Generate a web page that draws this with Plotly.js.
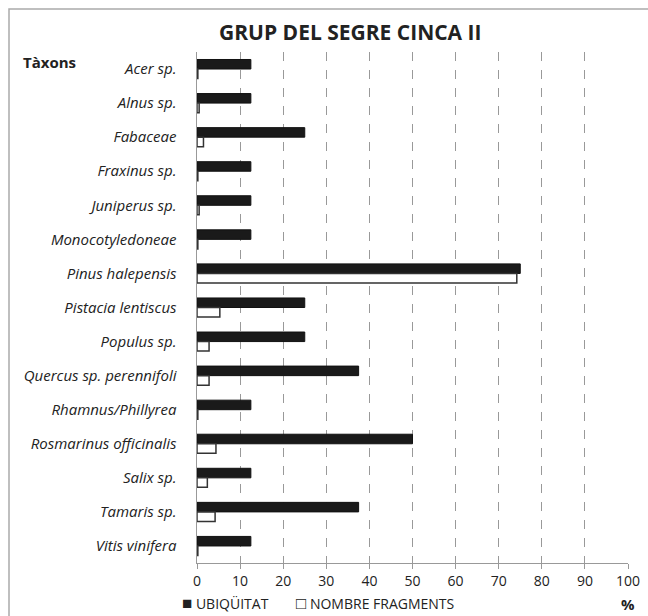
<!DOCTYPE html>
<html>
<head>
<meta charset="utf-8">
<script src="https://cdn.plot.ly/plotly-3.0.1.min.js"></script>
<style>
html,body{margin:0;padding:0;background:#fff;}
#chart{width:648px;height:616px;}
</style>
</head>
<body>
<div id="chart"></div>
<script>
const taxa = ["Acer sp.","Alnus sp.","Fabaceae","Fraxinus sp.","Juniperus sp.","Monocotyledoneae","Pinus halepensis","Pistacia lentiscus","Populus sp.","Quercus sp. perennifoli","Rhamnus/Phillyrea","Rosmarinus officinalis","Salix sp.","Tamaris sp.","Vitis vinifera"];
const ubiquitat = [12.5,12.5,25,12.5,12.5,12.5,75,25,25,37.5,12.5,50,12.5,37.5,12.5];
const fragments = [0.2,0.5,1.5,0.2,0.5,0.2,74.2,5.3,2.8,2.8,0.2,4.4,2.4,4.2,0.2];
const xTicks = [0,10,20,30,40,50,60,70,80,90,100];
const seriesNames = ['UBIQÜITAT','NOMBRE FRAGMENTS'];

const font = "Open Sans, Noto Sans, sans-serif";

const traces = [
  {type:'bar', orientation:'h', name:seriesNames[0], y:taxa, x:ubiquitat,
   marker:{color:'#1a1a1a', line:{color:'#111', width:1}}},
  {type:'bar', orientation:'h', name:seriesNames[1], y:taxa, x:fragments,
   marker:{color:'#ffffff', line:{color:'#333', width:1.5}}}
];

const L = 197, T = 52, W = 431, H = 511;
const px = x => (x - L) / W;
const py = y => (T + H - y) / H;

const layout = {
  width:648, height:616,
  margin:{l:L, r:648-L-W, t:T, b:616-T-H},
  paper_bgcolor:'#fff', plot_bgcolor:'#fff',
  barmode:'group', bargap:0.44, bargroupgap:0,
  font:{family:font, color:'#222'},
  showlegend:false,
  xaxis:{range:[0,100], tickvals:xTicks, ticktext:xTicks.map(String),
         showgrid:true, gridcolor:'#999', griddash:'dash', gridwidth:1,
         zeroline:false, showline:true, linecolor:'#999', linewidth:1,
         ticks:'outside', ticklen:5, tickcolor:'#999', automargin:false,
         tickfont:{size:14, color:'#222', family:font}, fixedrange:true},
  yaxis:{autorange:'reversed', showline:true, linecolor:'#999', linewidth:1.5,
         showgrid:false, ticks:'', ticklabelstandoff:16, automargin:false,
         tickfont:{size:15, color:'#222', family:font, style:'italic'}, fixedrange:true},
  annotations:[
    {text:'<b>GRUP DEL SEGRE CINCA II</b>', xref:'paper', yref:'paper',
     x:px(350), y:py(32), xanchor:'center', yanchor:'middle', showarrow:false,
     font:{size:21, color:'#222', family:font}},
    {text:'<b>Tàxons</b>', xref:'paper', yref:'paper',
     x:px(21), y:py(62), xanchor:'left', yanchor:'middle', showarrow:false,
     font:{size:15, color:'#222', family:font}},
    {text:'<b>%</b>', xref:'paper', yref:'paper',
     x:px(628), y:py(604), xanchor:'center', yanchor:'middle', showarrow:false,
     font:{size:15, color:'#222', family:font}},
    {text:'<span style="font-size:17px">■</span> ' + seriesNames[0], xref:'paper', yref:'paper',
     x:px(180), y:py(602), xanchor:'left', yanchor:'middle', showarrow:false,
     font:{size:14, color:'#222', family:font}},
    {text:'<span style="font-size:17px">□</span> ' + seriesNames[1], xref:'paper', yref:'paper',
     x:px(294), y:py(602), xanchor:'left', yanchor:'middle', showarrow:false,
     font:{size:14, color:'#222', family:font}}
  ],
  shapes:[
    {type:'rect', xref:'paper', yref:'paper',
     x0:px(9), x1:px(660), y0:py(630), y1:py(9),
     line:{color:'#aaa', width:1.5}, fillcolor:'rgba(0,0,0,0)', layer:'below'}
  ]
};

Plotly.newPlot('chart', traces, layout, {displayModeBar:false, staticPlot:true});
</script>
</body>
</html>
